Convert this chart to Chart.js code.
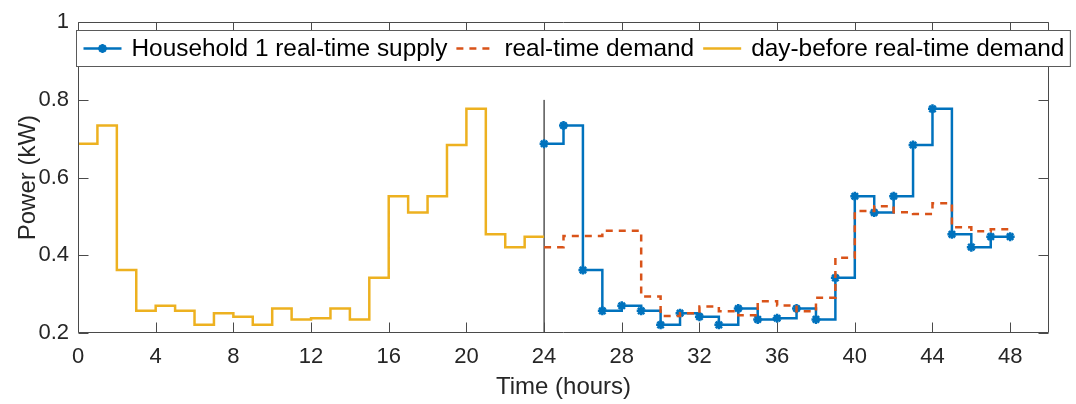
<!DOCTYPE html>
<html>
<head>
<meta charset="utf-8">
<script src="https://cdn.jsdelivr.net/npm/chart.js@4.4.0/dist/chart.umd.min.js"></script>
<style>
  html, body { margin: 0; padding: 0; background: #fff; }
  #wrap { width: 1076px; height: 404px; }
</style>
</head>
<body>
<div id="wrap"><canvas id="powerChart" width="1076" height="404"></canvas></div>
<script>
// hours 0..24, last value repeated so the final stair reaches hour 24
const dayBeforeHours = [0, 1, 2, 3, 4, 5, 6, 7, 8, 9, 10, 11, 12, 13, 14, 15, 16, 17, 18, 19, 20, 21, 22, 23, 24];
const dayBeforeDemand = [0.687, 0.734, 0.362, 0.257, 0.270, 0.257, 0.221, 0.251, 0.242, 0.221, 0.263, 0.235,
  0.238, 0.263, 0.235, 0.342, 0.552, 0.510, 0.552, 0.684, 0.777, 0.454, 0.421, 0.448, 0.448];

// hours 24..48
const realTimeHours = [24, 25, 26, 27, 28, 29, 30, 31, 32, 33, 34, 35, 36, 37, 38, 39, 40, 41, 42, 43, 44, 45, 46, 47, 48];
const householdSupply = [0.687, 0.734, 0.362, 0.257, 0.270, 0.257, 0.221, 0.251, 0.242, 0.221, 0.263, 0.235,
  0.238, 0.263, 0.235, 0.342, 0.552, 0.510, 0.552, 0.684, 0.777, 0.454, 0.421, 0.448, 0.448];
const realTimeDemand = [0.421, 0.450, 0.450, 0.463, 0.463, 0.294, 0.244, 0.251, 0.268, 0.256, 0.246, 0.282,
  0.271, 0.256, 0.291, 0.394, 0.514, 0.526, 0.511, 0.506, 0.534, 0.472, 0.462, 0.467, 0.467];

// vertical marker at the start of the real-time day
const dividerHours = [24, 24];
const dividerPower = [0.2, 0.8];

const timeTicks = [0, 4, 8, 12, 16, 20, 24, 28, 32, 36, 40, 44, 48];
const powerTicks = [0.2, 0.4, 0.6, 0.8, 1];

const legendLabels = ['Household 1 real-time supply', 'real-time demand', 'day-before real-time demand'];

const FONT = '"Liberation Sans", Arial, Helvetica, sans-serif';
const TEXT = '#262626';
const AXIS = '#4a4a4a';

function points(xs, ys) {
  return xs.map((x, i) => ({ x: x, y: ys[i] }));
}

// MATLAB style box with inward ticks on all four sides
const frame = {
  id: 'frame',
  afterDatasetsDraw(chart) {
    const { ctx, chartArea: a, scales } = chart;
    const L = Math.round(a.left) + 0.5, R = Math.round(a.right) - 0.5;
    const T = Math.round(a.top) + 0.5, B = Math.round(a.bottom) - 0.5;
    const len = 10;
    ctx.save();
    ctx.strokeStyle = AXIS;
    ctx.lineWidth = 1;
    ctx.beginPath();
    ctx.rect(L, T, R - L, B - T);
    scales.x.ticks.forEach(t => {
      const px = Math.round(scales.x.getPixelForValue(t.value)) + 0.5;
      ctx.moveTo(px, B); ctx.lineTo(px, B - len);
      ctx.moveTo(px, T); ctx.lineTo(px, T + len);
    });
    scales.y.ticks.forEach(t => {
      const py = Math.round(scales.y.getPixelForValue(t.value)) + 0.5;
      ctx.moveTo(L, py); ctx.lineTo(L + len, py);
      ctx.moveTo(R, py); ctx.lineTo(R - len, py);
    });
    ctx.stroke();
    ctx.restore();
  }
};

// legend box laid over the top of the axes, items in one row
const boxLegend = {
  id: 'boxLegend',
  afterDraw(chart) {
    const { ctx, chartArea: a } = chart;
    const ds = chart.data.datasets;
    const left = Math.round(a.left) - 1.5, top = 30.5, h = 36;
    const lineLen = 38, padL = 7, gapText = 10, gapItem = 9;
    ctx.save();
    ctx.font = '24.4px ' + FONT;
    let w = padL;
    legendLabels.forEach((lab, i) => {
      w += lineLen + gapText + ctx.measureText(lab).width + (i < legendLabels.length - 1 ? gapItem : 6);
    });
    ctx.fillStyle = '#fff';
    ctx.fillRect(left, top, w, h);
    ctx.strokeStyle = '#5a5a5a';
    ctx.lineWidth = 1;
    ctx.strokeRect(left, top, w, h);
    let x = left + padL;
    const cy = top + h / 2;
    legendLabels.forEach((lab, i) => {
      const d = ds[i];
      ctx.save();
      ctx.strokeStyle = d.borderColor;
      ctx.fillStyle = d.borderColor;
      ctx.lineWidth = 2.5;
      ctx.setLineDash(d.borderDash || []);
      ctx.beginPath();
      ctx.moveTo(x, cy); ctx.lineTo(x + lineLen, cy);
      ctx.stroke();
      ctx.setLineDash([]);
      if (d.pointRadius > 0) {
        ctx.lineWidth = d.pointBorderWidth;
        Chart.helpers.drawPoint(ctx, {
          pointStyle: d.pointStyle, radius: d.pointRadius, borderWidth: d.pointBorderWidth
        }, x + lineLen / 2, cy);
      }
      ctx.restore();
      x += lineLen + gapText;
      ctx.fillStyle = '#000';
      ctx.textBaseline = 'middle';
      ctx.fillText(lab, x, cy + 1);
      x += ctx.measureText(lab).width + gapItem;
    });
    ctx.restore();
  }
};

const config = {
  type: 'line',
  data: {
    datasets: [
      {
        label: legendLabels[0],
        data: points(realTimeHours, householdSupply),
        stepped: true,
        borderColor: '#0072BD',
        backgroundColor: '#0072BD',
        borderWidth: 2.5,
        pointStyle: 'star',
        pointRadius: 4.5,
        pointBorderWidth: 2.5,
        pointBorderColor: '#0072BD',
        order: 2,
      },
      {
        label: legendLabels[1],
        data: points(realTimeHours, realTimeDemand),
        stepped: true,
        borderColor: '#D95319',
        borderWidth: 2.5,
        borderDash: [7, 6],
        pointRadius: 0,
        order: 1,
      },
      {
        label: legendLabels[2],
        data: points(dayBeforeHours, dayBeforeDemand),
        stepped: true,
        borderColor: '#EDB120',
        borderWidth: 2.5,
        pointRadius: 0,
        order: 1,
      },
      {
        label: 'divider',
        data: points(dividerHours, dividerPower),
        borderColor: '#000',
        borderWidth: 1,
        pointRadius: 0,
        order: 3,
      },
    ],
  },
  options: {
    responsive: false,
    animation: false,
    layout: { padding: { top: 17, right: 27, left: 0, bottom: 0 } },
    plugins: {
      legend: { display: false },
      tooltip: { enabled: false },
    },
    scales: {
      x: {
        type: 'linear',
        min: 0,
        max: 50,
        afterBuildTicks: s => { s.ticks = timeTicks.map(v => ({ value: v })); },
        afterFit: s => { s.height = 71; },
        grid: { display: false, drawTicks: false },
        border: { display: false },
        ticks: { color: TEXT, font: { family: FONT, size: 22 }, padding: 11, maxRotation: 0 },
        title: { display: true, text: 'Time (hours)', color: TEXT, font: { family: FONT, size: 24 }, padding: { top: 0, bottom: 2 } },
      },
      y: {
        type: 'linear',
        min: 0.2,
        max: 1,
        afterBuildTicks: s => { s.ticks = powerTicks.map(v => ({ value: v })); },
        afterFit: s => { s.width = 78; },
        grid: { display: false, drawTicks: false },
        border: { display: false },
        ticks: { color: TEXT, font: { family: FONT, size: 22 }, padding: 9, callback: v => String(+v.toFixed(1)) },
        title: { display: true, text: 'Power (kW)', color: TEXT, font: { family: FONT, size: 24 }, padding: { top: 14, bottom: 0 } },
      },
    },
  },
  plugins: [frame, boxLegend],
};

const chartCtx = document.getElementById('powerChart');
window.powerChart = new Chart(chartCtx, config);
</script>
</body>
</html>
